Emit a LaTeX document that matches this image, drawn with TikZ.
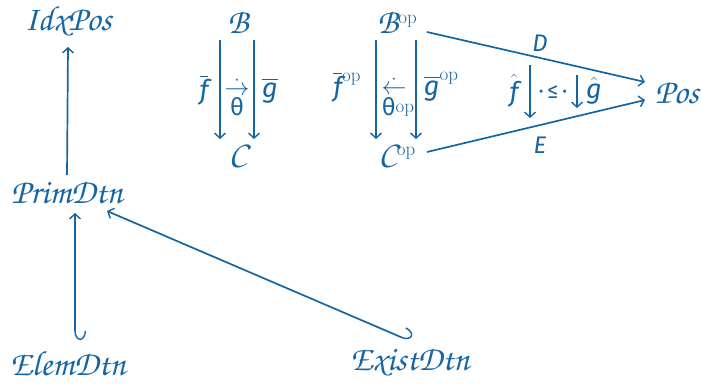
\documentclass[tikz,border=0pt]{standalone}
\usepackage{amsmath}
\usepackage{fontspec}
\newfontfamily\fira{Fira Sans}
\usetikzlibrary{arrows.meta}
\definecolor{cblue}{RGB}{21,101,163}
\newcommand{\chz}{\fontencoding{T1}\fontfamily{pzc}\fontseries{m}\fontshape{it}\selectfont}
\newcommand{\fit}[1]{\hbox{\fira\itshape #1}}
\newcommand{\fup}[1]{\hbox{\fira #1}}
\newcommand{\opsup}[1]{\raisebox{#1}{\fontsize{19}{20}\selectfont op}}
\begin{document}
\begin{tikzpicture}[x=1pt,y=-1pt,
  every node/.style={text=cblue, inner sep=0pt, font=\fontsize{24}{28}\selectfont},
  calt/.style={font=\chz\fontsize{35}{40}\selectfont},
  arr/.style={draw=cblue, line width=1.7pt, -{Straight Barb[length=5pt,width=11pt,line width=1.4pt]}},
  hk/.style={draw=cblue, line width=1.7pt, {Hooks[left,length=9pt,width=22pt,line width=1.4pt]}-{Straight Barb[length=5pt,width=11pt,line width=1.4pt]}},
  lbl/.style={font=\fontsize{27}{30}\selectfont}]
\useasboundingbox (0,0) rectangle (701,383);
% nodes
\node[calt] (idx) at (68,22) {IdxPos};
\node[calt] (prim) at (67,192) {PrimDtn};
\node[calt] (elem) at (68,363) {ElemDtn};
\node[calt] (exist) at (410,363) {ExistDtn};
\node[calt] (B) at (238,22) {B};
\node[calt] (C) at (238,155) {C};
\node (Bop) at (397,22) {{\chz\fontsize{35}{40}\selectfont B}\opsup{10pt}};
\node (Cop) at (397,155) {{\chz\fontsize{35}{40}\selectfont C}\opsup{10pt}};
\node[calt] (pos) at (677,93) {Pos};
% labels
\node[lbl] (fb) at (204,90) {$\overline{\fit{ƒ}}$};
\node[lbl] (gb) at (270,91) {$\overline{\fit{g}}$};
\node[lbl, font=\fontsize{24}{28}\selectfont] (tharr) at (237,87) {$\dot{\rightarrow}$};
\node[lbl, font=\fontsize{24}{28}\selectfont] (th) at (237,107) {\fup{θ}};
\node[lbl] (fbop) at (347,87) {$\overline{\fit{ƒ}}$\opsup{15pt}};
\node[lbl] (gbop) at (441,87) {$\overline{\fit{g}}$\opsup{15pt}};
\node[lbl, font=\fontsize{24}{28}\selectfont] (tharrop) at (394,86) {$\dot{\leftarrow}$};
\node[lbl, font=\fontsize{24}{28}\selectfont] (thop) at (398,107) {\fup{θ}\opsup{3pt}};
\node[lbl, font=\fontsize{24}{28}\selectfont] (D) at (540,43) {\fit{D}};
\node[lbl, font=\fontsize{24}{28}\selectfont] (E) at (540,145) {\fit{E}};
\node[lbl] (fh) at (514,91) {$\hat{\fit{ƒ}}$};
\node[lbl] (gh) at (594,91) {$\hat{\fit{g}}$};
\node[lbl, font=\fontsize{22}{26}\selectfont] (le) at (553,92) {\fup{·\,≤\,·}};
% connectors
\draw[arr] ([yshift=17pt]prim.center) -- ([yshift=-25pt]idx.center);
\draw[hk] ([xshift=7pt,yshift=23pt]elem.center) -- ([xshift=8pt,yshift=-21pt]prim.center);
\draw[hk] ([yshift=22pt]exist.center) -- ([xshift=40pt,yshift=-19pt]prim.center);
\draw[arr] ([xshift=-18pt,yshift=-18pt]B.center) -- ([xshift=-18pt,yshift=16pt]C.center);
\draw[arr] ([xshift=16pt,yshift=-18pt]B.center) -- ([xshift=16pt,yshift=16pt]C.center);
\draw[arr] ([xshift=-21pt,yshift=-18pt]Bop.center) -- ([xshift=-21pt,yshift=16pt]Cop.center);
\draw[arr] ([xshift=19pt,yshift=-18pt]Bop.center) -- ([xshift=19pt,yshift=16pt]Cop.center);
\draw[arr] ([xshift=30pt,yshift=-10pt]Bop.center) -- ([xshift=-32pt,yshift=11pt]pos.center);
\draw[arr] ([xshift=30pt,yshift=3pt]Cop.center) -- ([xshift=-32pt,yshift=-7pt]pos.center);
\draw[arr] ([xshift=-23pt,yshift=27pt]le.center) -- ([xshift=-23pt,yshift=-26pt]le.center);
\draw[arr] ([xshift=24pt,yshift=17pt]le.center) -- ([xshift=24pt,yshift=-16pt]le.center);
\end{tikzpicture}
\end{document}
